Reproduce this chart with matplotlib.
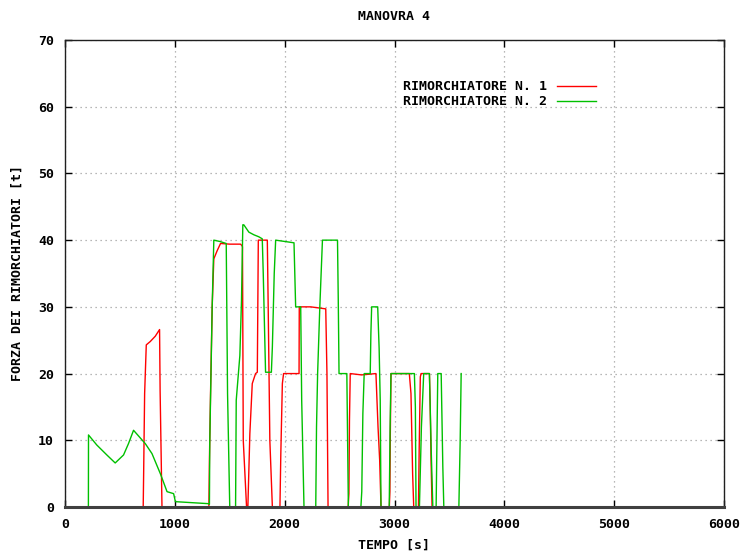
import matplotlib
matplotlib.use("Agg")
import matplotlib.pyplot as plt

# RIMORCHIATORE N. 1 (red)
t_rim1 = [0, 712, 716, 725, 740, 776, 822, 861, 866, 883,
          1310, 1315, 1325, 1340, 1355, 1385, 1416, 1500, 1598, 1610, 1616, 1623, 1653,
          1665, 1683, 1705, 1735, 1751, 1760, 1842, 1850, 1865, 1888,
          1957, 1965, 1979, 1990, 2131, 2133, 2237, 2374, 2385, 2395,
          2578, 2585, 2590, 2597, 2700, 2831, 2850, 2865, 2877,
          2953, 2958, 2962, 2968, 3135, 3150, 3165, 3175,
          3218, 3225, 3235, 3242, 3318, 3325, 3333, 3342, 3600]
f_rim1 = [0, 0, 5, 17, 24.3, 24.8, 25.6, 26.6, 17.4, 0,
          0, 7, 17, 30, 37.2, 38.4, 39.5, 39.4, 39.4, 39.2, 39.0, 10, 0,
          0, 11, 18.5, 20, 20.2, 40, 40, 30, 10, 0,
          0, 8, 18.5, 20, 20, 30, 30, 29.7, 20, 0,
          0, 2, 13, 20, 19.8, 20, 12, 7, 0,
          0, 2.3, 11, 20, 20, 17, 5, 0,
          0, 9, 19.5, 20, 20, 15, 7, 0, 0]

# RIMORCHIATORE N. 2 (green)
t_rim2 = [213, 214, 289, 381, 457, 533, 578, 624, 731, 792, 868, 929, 989, 1005, 1306,
          1315, 1318, 1340, 1355, 1410, 1468, 1480, 1500,
          1553, 1559, 1592, 1607, 1619, 1628, 1674, 1720, 1765, 1796, 1805, 1826,
          1879, 1888, 1905, 1918, 2085, 2100, 2146, 2155, 2176,
          2283, 2290, 2300, 2320, 2344, 2481, 2488, 2495, 2566, 2580,
          2694, 2702, 2712, 2724, 2779, 2785, 2792, 2847, 2860, 2870, 2877,
          2952, 2960, 2968, 3181, 3190, 3196,
          3227, 3245, 3266, 3318, 3335, 3349,
          3379, 3394, 3425, 3440, 3449,
          3586, 3598, 3607]
f_rim2 = [0, 10.8, 9.3, 7.8, 6.6, 7.8, 9.5, 11.5, 9.5, 8.0, 5.0, 2.3, 2.0, 0.8, 0.5,
          0.4, 9.6, 30, 40, 39.8, 39.5, 17, 0,
          0, 16, 22.7, 31, 42.3, 42.3, 41.2, 40.8, 40.5, 40.2, 35, 20.2,
          20.2, 24, 35, 40, 39.6, 30, 30, 16, 0,
          0, 12, 20, 30, 40, 40, 31, 20, 20, 0,
          0, 2.3, 14, 20, 20, 26, 30, 30, 23.8, 16, 0,
          0, 12, 20, 20, 15, 0,
          0, 12, 20, 20, 8, 0,
          0, 20, 20, 6, 0,
          0, 10, 20]

x_ticks = [0, 1000, 2000, 3000, 4000, 5000, 6000]
y_ticks = [0, 10, 20, 30, 40, 50, 60, 70]

mono = {"family": "DejaVu Sans Mono", "weight": "bold", "size": 9.5}

fig = plt.figure(figsize=(7.46, 5.54), dpi=100)
ax = fig.add_axes([65 / 746, 47 / 554, 659 / 746, 467 / 554])

ax.plot(t_rim1, f_rim1, color="#ff0000", lw=1.0, label="RIMORCHIATORE N. 1", zorder=2)
ax.plot(t_rim2, f_rim2, color="#00c000", lw=1.0, label="RIMORCHIATORE N. 2", zorder=2)

ax.set_xlim(0, 6000)
ax.set_ylim(0, 70)
ax.set_xticks(x_ticks)
ax.set_yticks(y_ticks)
ax.set_xticklabels([str(v) for v in x_ticks], fontdict=mono)
ax.set_yticklabels([str(v) for v in y_ticks], fontdict=mono)
ax.tick_params(direction="in", length=5, width=1, top=True, right=True, pad=8)
ax.grid(True, color="#a0a0a0", linestyle=(0, (1, 3)), linewidth=0.9)
ax.set_axisbelow(True)
for s in ax.spines.values():
    s.set_linewidth(1.0)
    s.set_color("#202020")
    s.set_zorder(3)
ax.spines["bottom"].set_linewidth(2.2)
ax.spines["bottom"].set_color("#404040")

fig.text(394 / 746, 1 - 17 / 554, "MANOVRA 4", ha="center", va="center", fontdict=mono)
fig.text(394 / 746, 1 - 545 / 554, "TEMPO [s]", ha="center", va="center", fontdict=mono)
fig.text(17 / 746, 1 - 273 / 554, "FORZA DEI RIMORCHIATORI [t]", ha="center", va="center",
         rotation=90, fontdict=mono)

ax.legend(loc="upper right", bbox_to_anchor=(0.824, 0.939), frameon=False, markerfirst=False,
          prop=mono, handlelength=3.0, handletextpad=0.7, labelspacing=0.15)

fig.savefig("out.png", dpi=100)
